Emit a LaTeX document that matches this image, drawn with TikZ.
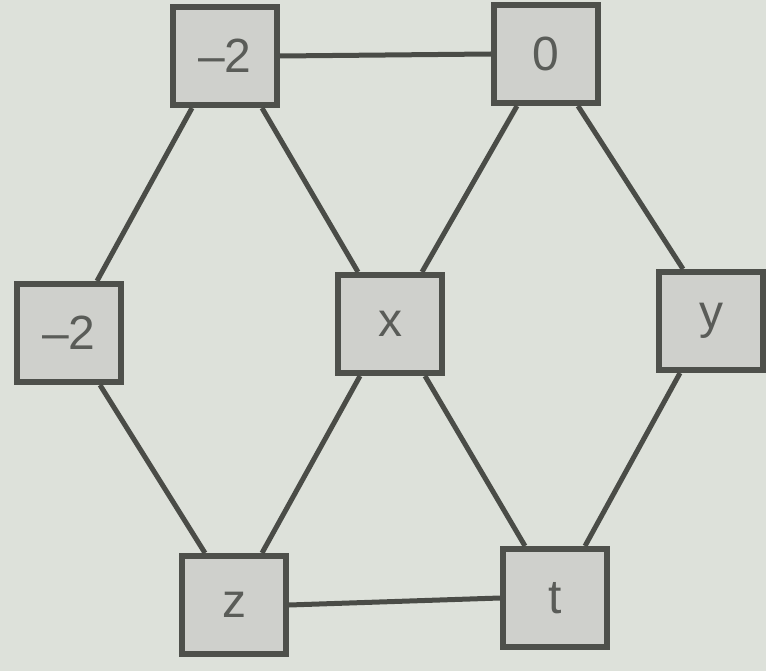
\documentclass[tikz,border=0pt]{standalone}
\usepackage{fontspec}
\setmainfont{Liberation Sans}
\begin{document}
\begin{tikzpicture}[x=1pt,y=-1pt,
  box/.style={draw=boxline,fill=boxfill,line width=6pt,minimum width=104pt,minimum height=98pt,inner sep=0pt,
    font=\fontsize{48}{50}\selectfont,text=txt},
  edge/.style={draw=edgecol,line width=5pt}]
\definecolor{bg}{HTML}{DDE1DA}
\definecolor{boxfill}{HTML}{CFD0CC}
\definecolor{boxline}{HTML}{4E504B}
\definecolor{edgecol}{HTML}{4A4C47}
\definecolor{txt}{HTML}{5A5C58}
\fill[bg] (0,0) rectangle (766,671);
\useasboundingbox (0,0) rectangle (766,671);
\node[box] (tl) at (225,56) {–2};
\node[box] (tr) at (546,54) {0};
\node[box] (ml) at (69,333) {–2};
\node[box] (x) at (390,324) {x};
\node[box] (y) at (711,321) {y};
\node[box] (z) at (234,605) {z};
\node[box] (t) at (555,598) {t};
\draw[edge] (tl.east) -- (tr.west);
\draw[edge] (z.east) -- (t.west);
\draw[edge] ([xshift=-33pt]tl.south) -- ([xshift=28pt]ml.north);
\draw[edge] ([xshift=37pt]tl.south) -- ([xshift=-32pt]x.north);
\draw[edge] ([xshift=-29pt]tr.south) -- ([xshift=32pt]x.north);
\draw[edge] ([xshift=32pt]tr.south) -- ([xshift=-28pt]y.north);
\draw[edge] ([xshift=31pt]ml.south) -- ([xshift=-29pt]z.north);
\draw[edge] ([xshift=-30pt]x.south) -- ([xshift=28pt]z.north);
\draw[edge] ([xshift=35pt]x.south) -- ([xshift=-30pt]t.north);
\draw[edge] ([xshift=-31pt]y.south) -- ([xshift=30pt]t.north);
\end{tikzpicture}
\end{document}
